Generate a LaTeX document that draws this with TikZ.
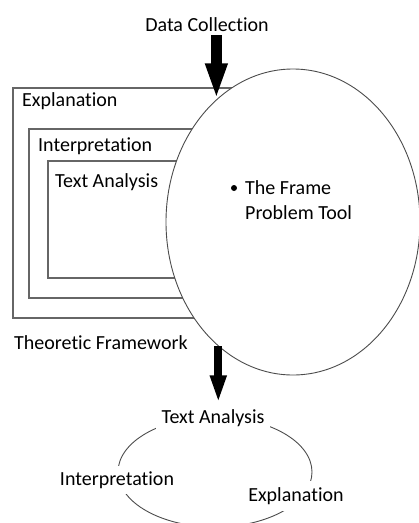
\documentclass[tikz,border=0pt]{standalone}
\usepackage{fontspec}
\setmainfont{Carlito}[Ligatures=NoCommon]
\usetikzlibrary{shapes.geometric,arrows.meta,positioning}

\tikzset{
  lbl/.style={font=\fontsize{20}{25}\selectfont, inner sep=3pt},
  gap/.style={lbl, fill=white, inner sep=6pt},
  layer/.style={draw=black!60, line width=1.3pt},
  bigarrow/.style={line width=11pt, -{Triangle[width=20pt,length=36pt]}},
  smallarrow/.style={line width=8pt, -{Triangle[width=15pt,length=28pt]}}
}

\begin{document}
\begin{tikzpicture}[x=1pt, y=-1pt]
            \useasboundingbox (0,0) rectangle (419,523);
            \clip (0,0) rectangle (419,523);

            % nested boxes of the framework
            \draw[layer] (13,88) rectangle (290,318);
            \draw[layer] (29,129) rectangle (290,298);
            \draw[layer] (48,161) rectangle (290,278);

            \node[lbl, anchor=west] (expl) at (19,101) {Explanation};
            \node[lbl, anchor=west] (interp) at (35,146) {Interpretation};
            \node[lbl, anchor=west] (ta) at (52,182) {Text Analysis};
            \node[lbl, anchor=west] (theo) at (11,343) {Theoretic Framework};

            % the tool
            \node[ellipse, draw=black!70, line width=0.9pt, fill=white, inner sep=0pt,
                  minimum width=254pt, minimum height=306pt] (tool) at (293,222) {};
            \node[lbl, anchor=west, align=left] (frame) at (242,200) {The Frame\\Problem Tool};
            \fill (234,188) circle (3pt);

            \node[lbl] (dc) at (207,25) {Data Collection};

            % cycle below
            \draw[black!70, line width=0.9pt] (215,472) ellipse (97 and 55);
            \node[gap] (cta) at (213,418) {Text Analysis};
            \node[gap] (cin) at (117,480) {Interpretation};
            \node[gap] (cex) at (296,496) {Explanation};

            \draw[bigarrow] (tool.122 |- dc.south) -- (tool.122);
            \draw[smallarrow] (tool.239) -- (tool.239 |- cta.north);
        \end{tikzpicture}
\end{document}
